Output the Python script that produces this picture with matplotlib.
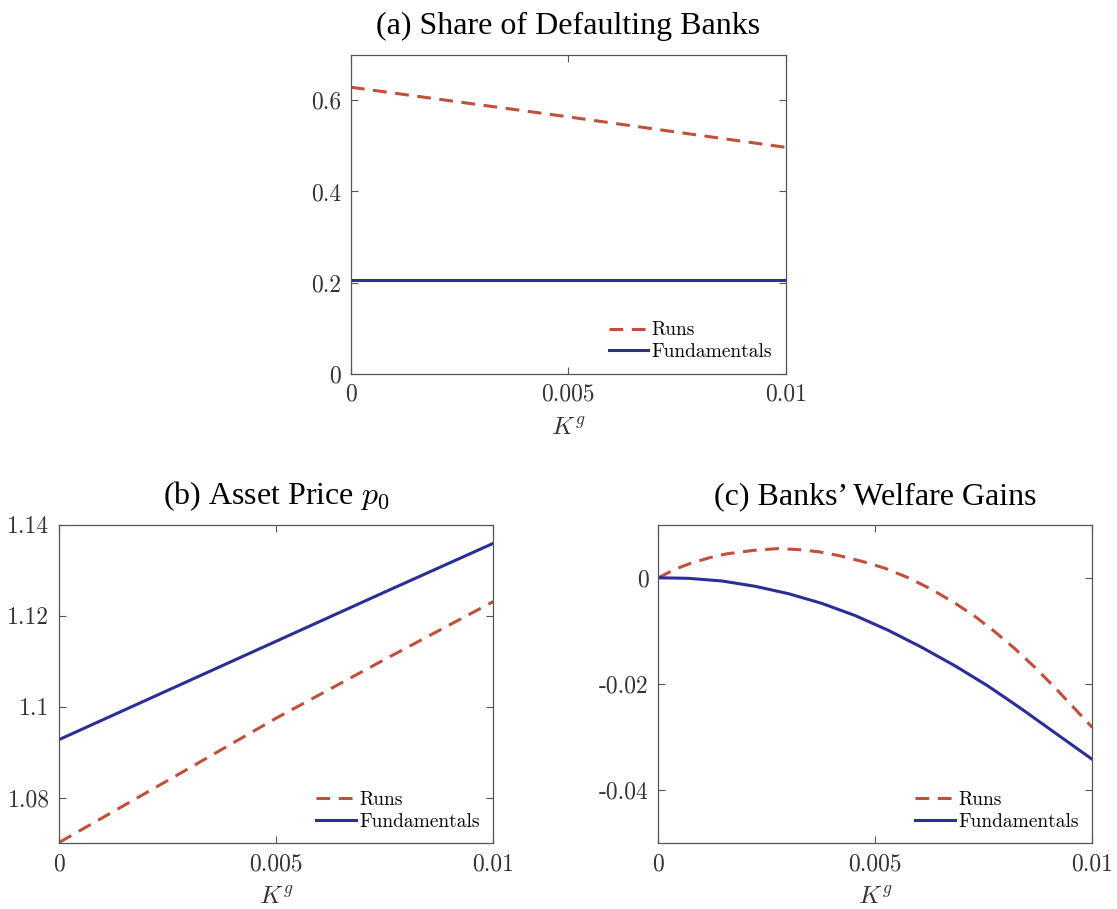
import matplotlib
matplotlib.use("Agg")
import matplotlib.pyplot as plt

plt.rcParams['mathtext.fontset'] = 'cm'
plt.rcParams['axes.unicode_minus'] = False

# datos
k_grid = [0.0, 0.0025, 0.005, 0.0075, 0.01]
share_runs = [0.6285, 0.596, 0.5636, 0.530, 0.4968]
share_fund = [0.2066, 0.2066, 0.2066, 0.2066, 0.2066]

price_runs = [1.0702, 1.0838, 1.0975, 1.1104, 1.1231]
price_fund = [1.0928, 1.1036, 1.1144, 1.1252, 1.1359]

k_welfare_runs = [0.0, 0.00038, 0.00077, 0.00119, 0.00157, 0.00223, 0.00277, 0.00323,
                  0.00369, 0.00415, 0.00469, 0.00522, 0.00576, 0.0063, 0.00684, 0.0073,
                  0.00776, 0.00822, 0.00868, 0.00914, 0.00952, 0.00991, 0.01]
welfare_runs = [0.0, 0.0016, 0.0028, 0.0038, 0.0045, 0.0052, 0.0055, 0.0053,
                0.0049, 0.0042, 0.0031, 0.0018, 0.0000, -0.0022, -0.0048, -0.0073,
                -0.0102, -0.0134, -0.0169, -0.0207, -0.0240, -0.0274, -0.0282]
k_welfare_fund = [0.0, 0.00069, 0.00146, 0.00223, 0.003, 0.00376, 0.00453, 0.0053,
                  0.00607, 0.00684, 0.0076, 0.00837, 0.00914, 0.01]
welfare_fund = [0.0, -0.0001, -0.0006, -0.0016, -0.0030, -0.0048, -0.0071, -0.0099,
                -0.0131, -0.0166, -0.0204, -0.0247, -0.0292, -0.0342]

x_ticks = [0, 0.005, 0.01]
x_labels = ['0', '0.005', '0.01']

c_runs = '#C0503A'
c_fund = '#2B2E94'
axis_col = '#555555'
text_col = '#333333'

fig = plt.figure(figsize=(11.17, 9.09), dpi=100)
ax_a = fig.add_axes([0.3142, 0.5886, 0.3892, 0.3513])
ax_b = fig.add_axes([0.0531, 0.0723, 0.3885, 0.3505])
ax_c = fig.add_axes([0.5894, 0.0723, 0.3885, 0.3505])


def style(ax, title, yticks, ylabels, ylim):
    ax.set_xlim(0, 0.01)
    ax.set_ylim(*ylim)
    ax.set_xticks(x_ticks)
    ax.set_xticklabels(x_labels, fontfamily='cmr10', fontsize=17, color=text_col)
    ax.set_yticks(yticks)
    ax.set_yticklabels(ylabels, fontfamily='cmr10', fontsize=17, color=text_col)
    ax.tick_params(direction='in', top=True, right=True, length=5, width=0.8,
                   color=axis_col, pad=7)
    for s in ax.spines.values():
        s.set_color(axis_col)
        s.set_linewidth(0.9)
    ax.set_xlabel(r'$K^g$', fontsize=18, color=text_col, labelpad=7)
    ax.set_title(title, fontfamily='Liberation Serif', fontsize=23, pad=15)
    ax.legend(loc='lower right', bbox_to_anchor=(0.968, 0.04), frameon=False,
              prop={'family': 'cmr10', 'size': 14}, handlelength=2.05,
              handletextpad=0.15, labelspacing=0.2, borderaxespad=0, borderpad=0)


ax_a.plot(k_grid, share_runs, color=c_runs, lw=2.2, dashes=(4.5, 2.8), label='Runs')
ax_a.plot(k_grid, share_fund, color=c_fund, lw=2.2, label='Fundamentals')
style(ax_a, '(a) Share of Defaulting Banks', [0, 0.2, 0.4, 0.6],
      ['0', '0.2', '0.4', '0.6'], (0, 0.7))

ax_b.plot(k_grid, price_runs, color=c_runs, lw=2.2, dashes=(4.5, 2.8), label='Runs')
ax_b.plot(k_grid, price_fund, color=c_fund, lw=2.2, label='Fundamentals')
style(ax_b, r'(b) Asset Price $p_0$', [1.08, 1.1, 1.12, 1.14],
      ['1.08', '1.1', '1.12', '1.14'], (1.07, 1.14))

ax_c.plot(k_welfare_runs, welfare_runs, color=c_runs, lw=2.2, dashes=(4.5, 2.8), label='Runs')
ax_c.plot(k_welfare_fund, welfare_fund, color=c_fund, lw=2.2, label='Fundamentals')
style(ax_c, u'(c) Banks\u2019 Welfare Gains', [-0.04, -0.02, 0],
      ['-0.04', '-0.02', '0'], (-0.05, 0.01))

fig.savefig('out.png', dpi=100)
